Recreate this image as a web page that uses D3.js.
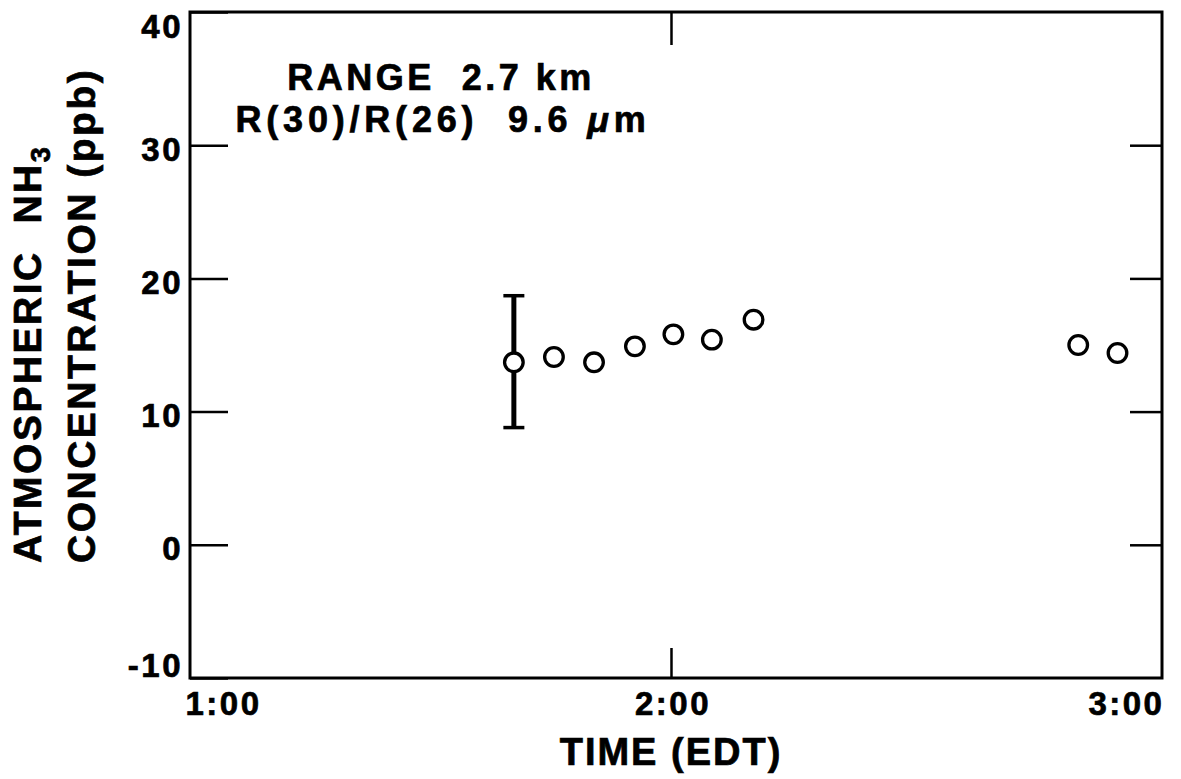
<!DOCTYPE html>
<html>
<head>
<meta charset="utf-8">
<script src="https://cdn.jsdelivr.net/npm/d3@7"></script>
<style>
  body { margin: 0; background: #fff; }
  svg text { font-family: "Liberation Sans", Arial, Helvetica, sans-serif; font-weight: bold; fill: #000; stroke: #000; stroke-width: 0.7px; }
</style>
</head>
<body>
<svg id="chart" width="1181" height="779"></svg>
<script>
// time in minutes after midnight (EDT), NH3 in ppb
const times = [100.4, 105.4, 110.4, 115.5, 120.3, 125.1, 130.3, 170.8, 175.7];
const nh3 = [13.7, 14.1, 13.7, 14.9, 15.8, 15.4, 16.9, 15.0, 14.4];
// one error bar on the first point
const errTime = [100.4];
const errLow = [8.8];
const errHigh = [18.7];

const yTicks = [40, 30, 20, 10, 0, -10];
const xTicks = [60, 120, 180];
const xTickLabels = ['1:00', '2:00', '3:00'];

const svg = d3.select('#chart');
const plotLeft = 190, plotRight = 1162, plotTop = 12, plotBottom = 678;

const x = d3.scaleLinear().domain([60, 181.25]).range([plotLeft, plotRight]);
const y = d3.scaleLinear().domain([-10, 40]).range([plotBottom, plotTop]);

// left axis with labels, ticks pointing inward (plain hyphen for the minus)
const gLeft = svg.append('g')
    .attr('transform', `translate(${plotLeft},0)`)
    .call(d3.axisLeft(y).tickValues(yTicks).tickSizeInner(-38).tickSizeOuter(0).tickPadding(7)
        .tickFormat(d => String(d)));
gLeft.select('.domain').remove();
gLeft.selectAll('.tick line').attr('stroke', '#000').attr('stroke-width', 2.5);
gLeft.selectAll('.tick text')
    .style('font-size', '33px')
    .style('letter-spacing', '2.5px')
    .attr('dy', d => d === 40 ? '0.76em' : (d === -10 ? '-0.05em' : '0.46em'));

// right axis, ticks only
const gRight = svg.append('g')
    .attr('transform', `translate(${plotRight},0)`)
    .call(d3.axisRight(y).tickValues([30, 20, 10, 0]).tickSizeInner(-32).tickSizeOuter(0).tickFormat(''));
gRight.select('.domain').remove();
gRight.selectAll('.tick line').attr('stroke', '#000').attr('stroke-width', 2.5);

// bottom axis with labels, only the 2:00 tick has a mark
const gBottom = svg.append('g')
    .attr('transform', `translate(0,${plotBottom})`)
    .call(d3.axisBottom(x).tickValues(xTicks).tickSizeInner(-30).tickSizeOuter(0).tickPadding(14)
        .tickFormat((d, i) => xTickLabels[i]));
gBottom.select('.domain').remove();
gBottom.selectAll('.tick line')
    .attr('stroke', d => d === 120 ? '#000' : 'none')
    .attr('stroke-width', 2.5);
gBottom.selectAll('.tick text')
    .style('font-size', '33px')
    .style('letter-spacing', '2.5px')
    .attr('text-anchor', (d, i) => i === 0 ? 'start' : (i === xTicks.length - 1 ? 'end' : 'middle'))
    .attr('dx', (d, i) => i === 0 ? -5 : (i === xTicks.length - 1 ? 12 : 1.5));

// top axis, one tick at 2:00
const gTop = svg.append('g')
    .attr('transform', `translate(0,${plotTop})`)
    .call(d3.axisTop(x).tickValues([120]).tickSizeInner(-33).tickSizeOuter(0).tickFormat(''));
gTop.select('.domain').remove();
gTop.selectAll('.tick line').attr('stroke', '#000').attr('stroke-width', 2.5);

// frame
svg.append('rect')
    .attr('x', plotLeft).attr('y', plotTop)
    .attr('width', plotRight - plotLeft).attr('height', plotBottom - plotTop)
    .attr('fill', 'none').attr('stroke', '#000').attr('stroke-width', 3);

// error bar
const err = svg.append('g');
errTime.forEach((t, i) => {
    err.append('line')
        .attr('x1', x(t)).attr('x2', x(t))
        .attr('y1', y(errLow[i])).attr('y2', y(errHigh[i]))
        .attr('stroke', '#000').attr('stroke-width', 5);
    [errLow[i], errHigh[i]].forEach(v => {
        err.append('line')
            .attr('x1', x(t) - 10.5).attr('x2', x(t) + 10.5)
            .attr('y1', y(v)).attr('y2', y(v))
            .attr('stroke', '#000').attr('stroke-width', 3.5);
    });
});

// points
svg.append('g').selectAll('circle')
    .data(times)
    .join('circle')
    .attr('cx', d => x(d))
    .attr('cy', (d, i) => y(nh3[i]))
    .attr('r', 9.3)
    .attr('fill', '#fff')
    .attr('stroke', '#000')
    .attr('stroke-width', 3.3);

// annotation
const note = svg.append('text')
    .attr('text-anchor', 'middle')
    .style('font-size', '36px')
    .style('white-space', 'pre');
note.append('tspan').attr('x', 441).attr('y', 90).style('letter-spacing', '3.5px').text('RANGE  2.7 km');
const l2 = note.append('tspan').attr('x', 443).attr('y', 132).style('letter-spacing', '4.8px');
l2.append('tspan').text('R(30)/R(26)  9.6 ');
l2.append('tspan').style('font-style', 'italic').text('\u03bc');
l2.append('tspan').text('m');

// x title
svg.append('text')
    .attr('x', 671).attr('y', 765)
    .attr('text-anchor', 'middle')
    .style('font-size', '38px')
    .style('letter-spacing', '2px')
    .text('TIME (EDT)');

// y title, two lines starting from the same bottom point
const yt1 = svg.append('text')
    .attr('transform', 'translate(41,563) rotate(-90)')
    .attr('text-anchor', 'start')
    .style('font-size', '39px')
    .style('letter-spacing', '2.5px')
    .style('white-space', 'pre');
yt1.append('tspan').text('ATMOSPHERIC  NH');
yt1.append('tspan').attr('dy', 9).style('font-size', '27px').text('3');

svg.append('text')
    .attr('transform', 'translate(95,563) rotate(-90)')
    .attr('text-anchor', 'start')
    .style('font-size', '39px')
    .style('letter-spacing', '2.5px')
    .text('CONCENTRATION (ppb)');
</script>
</body>
</html>
